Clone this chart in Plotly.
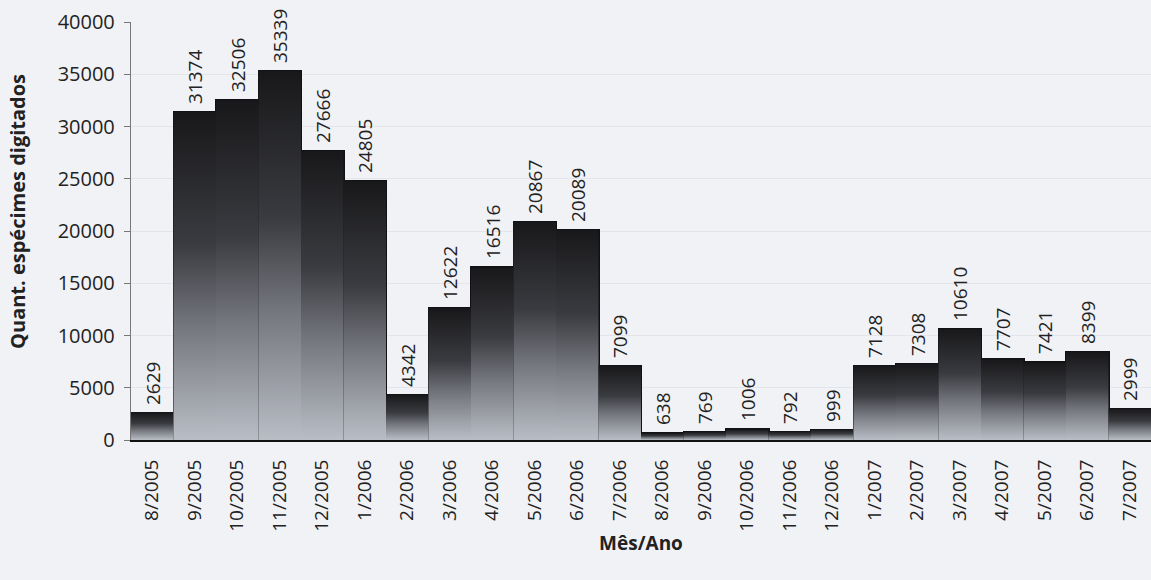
import plotly.graph_objects as go

meses = ["8/2005", "9/2005", "10/2005", "11/2005", "12/2005", "1/2006", "2/2006",
         "3/2006", "4/2006", "5/2006", "6/2006", "7/2006", "8/2006", "9/2006",
         "10/2006", "11/2006", "12/2006", "1/2007", "2/2007", "3/2007", "4/2007",
         "5/2007", "6/2007", "7/2007"]
valores = [2629, 31374, 32506, 35339, 27666, 24805, 4342, 12622, 16516, 20867,
           20089, 7099, 638, 769, 1006, 792, 999, 7128, 7308, 10610, 7707, 7421,
           8399, 2999]
y_ticks = [0, 5000, 10000, 15000, 20000, 25000, 30000, 35000, 40000]

FONT = "'Open Sans', Lato, sans-serif"
NB = "\u00a0"
gradient_scale = [[0, "#b9bdc5"], [0.35, "#74767d"], [0.6, "#3a3b40"], [1, "#18181a"]]

fig = go.Figure()

# gradient fills (one per bar), derived from the data index and value
for i, v in enumerate(valores):
    xs = [i - 0.5, i + 0.5, i + 0.5, i - 0.5, i - 0.5]
    ys = [0, 0, v, v, 0]
    fig.add_trace(go.Scatter(
        x=xs, y=ys, mode="lines", fill="toself",
        line=dict(width=0, color="rgba(0,0,0,0)"),
        fillgradient=dict(type="vertical", colorscale=gradient_scale),
        hoverinfo="skip", showlegend=False,
    ))

# outlines and labels
fig.add_trace(go.Bar(
    x=list(range(len(meses))), y=valores,
    marker=dict(color="rgba(0,0,0,0)", line=dict(color="#111114", width=2)),
    text=[NB + str(v) for v in valores], textposition="outside", textangle=-90,
    textfont=dict(family=FONT, size=19, color="#222222"),
    constraintext="none",
    cliponaxis=False, showlegend=False,
))

fig.update_layout(
    width=1151, height=580,
    margin=dict(l=131, r=0, t=22, b=140),
    paper_bgcolor="#f1f2f6", plot_bgcolor="#f1f2f6",
    bargap=0,
    font=dict(family=FONT, color="#222222"),
    annotations=[dict(
        text="<b>Quant. espécimes digitados</b>", textangle=-90,
        xref="paper", yref="paper", x=-0.1108, y=0.548,
        xanchor="center", yanchor="middle", showarrow=False,
        font=dict(size=20, color="#222222"),
    )],
)
fig.update_xaxes(
    range=[-0.5, len(meses) - 0.5],
    tickmode="array", tickvals=list(range(len(meses))), ticktext=meses,
    tickangle=-90, tickfont=dict(size=19, color="#222222"),
    showgrid=False, zeroline=False,
    showline=True, linecolor="#111111", linewidth=2,
    ticks="outside", ticklen=10, tickcolor="rgba(0,0,0,0)",
    title=dict(text="<b>Mês/Ano</b>", font=dict(size=19, color="#222222"), standoff=6),
)
fig.update_yaxes(
    range=[0, 40000], tickmode="array", tickvals=y_ticks,
    ticktext=[str(t) + NB for t in y_ticks],
    tickfont=dict(size=20, color="#222222"),
    showgrid=True, gridcolor="#e3e5ea", gridwidth=1,
    zeroline=False,
    showline=True, linecolor="#777777", linewidth=1,
    ticks="outside", ticklen=6, tickcolor="#777777",
)

fig.write_html("out.html", config={"displayModeBar": False},
               post_script="document.body.style.margin='0';document.body.style.background='#f1f2f6';")
